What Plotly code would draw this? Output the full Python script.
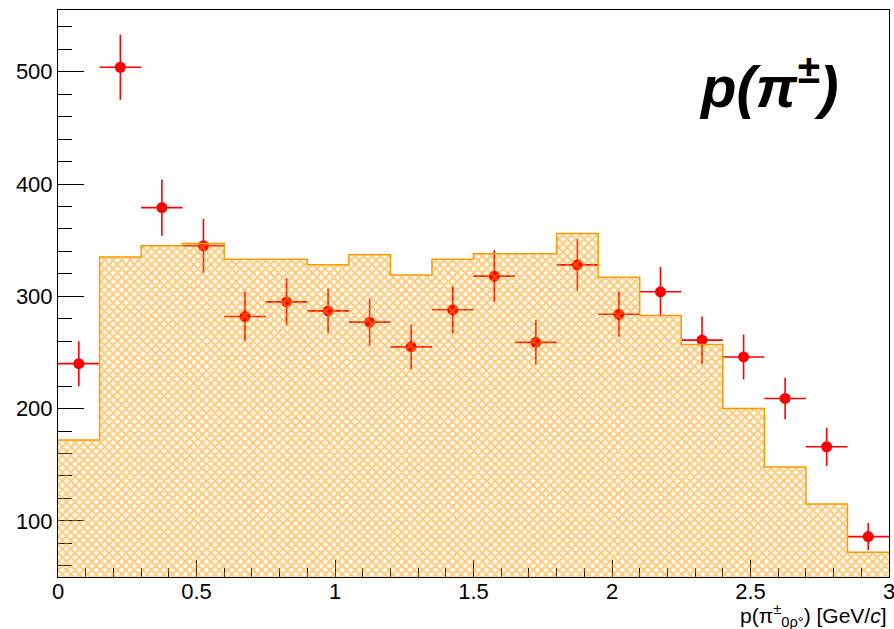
import plotly.graph_objects as go

# Histogram (MC / expectation), 20 bins of width 0.15 GeV/c from 0 to 3
bin_low = [0.0, 0.15, 0.30, 0.45, 0.60, 0.75, 0.90, 1.05, 1.20, 1.35,
           1.50, 1.65, 1.80, 1.95, 2.10, 2.25, 2.40, 2.55, 2.70, 2.85]
bin_high_last = 3.0
hist_vals = [172, 335, 345, 347, 333, 333, 328, 337, 319, 333,
             338, 338, 356, 317, 283, 257, 200, 148, 115, 72]

# Data points
data_x = [0.075, 0.225, 0.375, 0.525, 0.675, 0.825, 0.975, 1.125, 1.275, 1.425,
          1.575, 1.725, 1.875, 2.025, 2.175, 2.325, 2.475, 2.625, 2.775, 2.925]
data_y = [240, 504, 379, 345, 282, 295, 287, 277, 255, 288,
          318, 259, 328, 284, 304, 261, 246, 209, 166, 86]
data_err = [20, 29, 25, 24, 22, 21, 20, 21, 20, 21,
            23, 20, 23, 20, 22, 21, 20, 18.5, 17, 12]
half_width = 0.075

x_tickvals = [0, 0.5, 1, 1.5, 2, 2.5, 3]
x_ticktext = ["0", "0.5", "1", "1.5", "2", "2.5", "3"]
y_tickvals = [100, 200, 300, 400, 500]

RED = "#ff0000"
ORANGE = "#ff9900"
FONT = "Liberation Sans, Arial, sans-serif"

fig = go.Figure()

fig.add_trace(go.Scatter(
    x=data_x, y=data_y, mode="markers",
    marker=dict(color=RED, size=11, symbol="circle"),
    error_y=dict(type="data", array=data_err, color=RED, thickness=1.6, width=0),
    error_x=dict(type="constant", value=half_width, color=RED, thickness=1.6, width=0),
    showlegend=False, hoverinfo="skip",
))

hx = bin_low + [bin_high_last]
hy = hist_vals + [hist_vals[-1]]
fig.add_trace(go.Scatter(
    x=hx, y=hy, mode="lines", line_shape="hv",
    line=dict(color=ORANGE, width=1.5),
    fill="tozeroy", fillcolor="rgba(0,0,0,0)",
    fillpattern=dict(shape="x", fgcolor=ORANGE, bgcolor="rgba(0,0,0,0)",
                     size=6, solidity=0.6, fillmode="overlay"),
    showlegend=False, hoverinfo="skip",
))

fig.update_layout(
    template="none",
    width=894, height=629,
    margin=dict(l=58, r=5, t=10, b=52),
    paper_bgcolor="white", plot_bgcolor="white",
    font=dict(family=FONT, color="black", size=22),
    showlegend=False,
    xaxis=dict(
        range=[0, 3], tickmode="array",
        tickvals=x_tickvals, ticktext=x_ticktext,
        ticks="inside", ticklen=17, tickwidth=1, tickcolor="black",
        minor=dict(dtick=0.1, tick0=0, ticks="inside", ticklen=9, tickcolor="black"),
        showline=True, linecolor="black", linewidth=1, mirror=True,
        showgrid=False, zeroline=False, layer="below traces",
        tickfont=dict(size=22, family=FONT, color="black"),
        automargin=False, ticklabeloverflow="allow", ticklabelstandoff=-5,
    ),
    yaxis=dict(
        range=[50, 555], tickmode="array",
        tickvals=y_tickvals,
        ticks="inside", ticklen=26, tickwidth=1, tickcolor="black",
        minor=dict(dtick=20, tick0=0, ticks="inside", ticklen=14, tickcolor="black"),
        showline=True, linecolor="black", linewidth=1, mirror=True,
        showgrid=False, zeroline=False, layer="below traces",
        tickfont=dict(size=22, family=FONT, color="black"),
        automargin=False, ticklabeloverflow="allow",
    ),
    annotations=[
        dict(text="<b><i>p(π<sup>±</sup>)</i></b>", xref="paper", yref="paper",
             x=0.942, y=0.872, xanchor="right", yanchor="middle", showarrow=False,
             font=dict(size=58, family=FONT, color="black")),
        dict(text="p(π<sup>±</sup><sub>0ρ°</sub>) [GeV/<i>c</i>]", xref="paper", yref="paper",
             x=1.0, y=-0.038, xanchor="right", yanchor="top", showarrow=False,
             font=dict(size=21, family=FONT, color="black")),
    ],
)

fig.write_html("out.html", config={"displayModeBar": False},
               post_script="document.body.style.margin='0';document.body.style.overflow='hidden';")
